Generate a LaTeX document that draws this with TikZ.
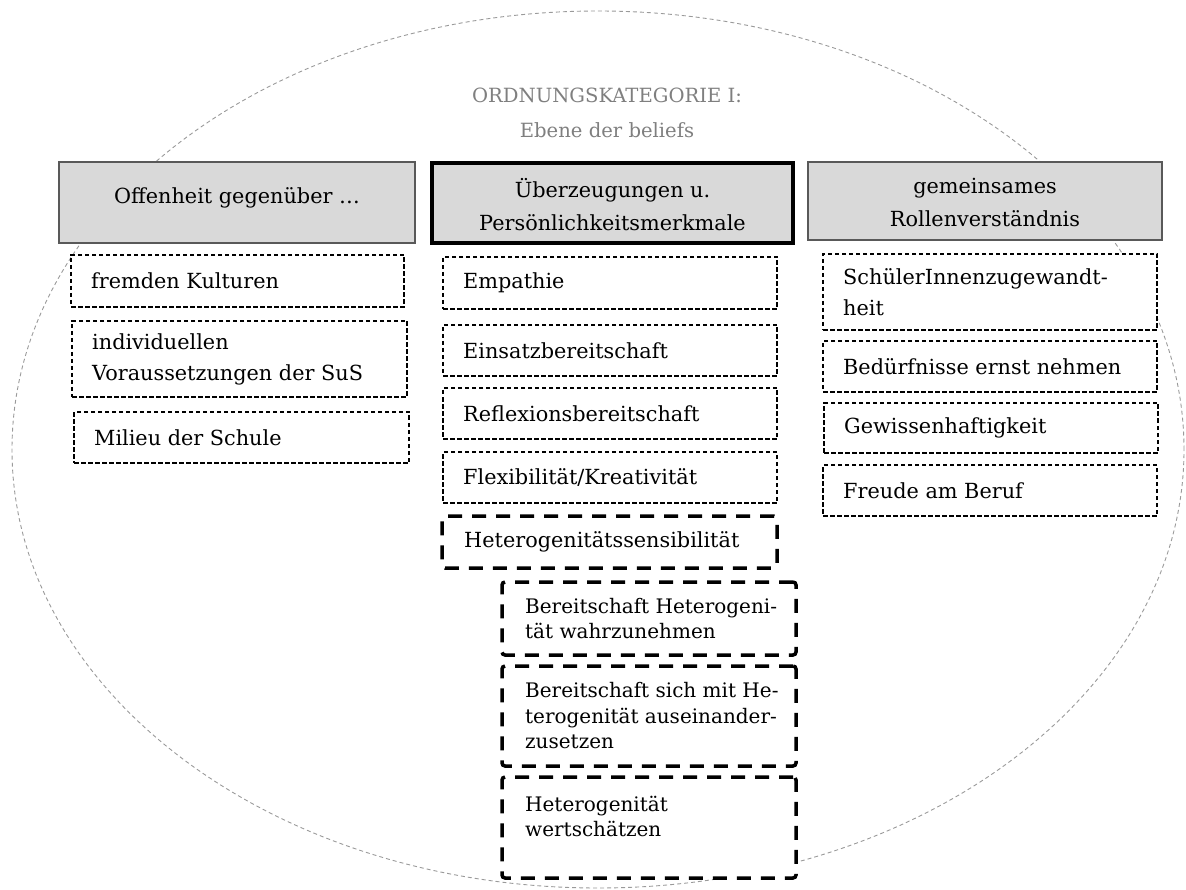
\documentclass[tikz,border=0pt]{standalone}
\usepackage{fontspec}
\setmainfont{DejaVu Serif}
\definecolor{hdrgray}{HTML}{D9D9D9}
\definecolor{ellgray}{HTML}{9A9A9A}
\definecolor{titlegray}{HTML}{7F7F7F}
\newcommand\bodyfont{\fontsize{20.8}{31}\selectfont}
\newcommand\subfont{\fontsize{20}{25.5}\selectfont}
\newcommand\headfont{\fontsize{20.8}{33}\selectfont}
\newcommand\titlefont{\fontsize{19.6}{35}\selectfont}
% a box: style, name, top-left corner, width, height
\newcommand\boxat[5]{\node[#1, minimum width=#4pt, minimum height=#5pt, anchor=north west, inner sep=0pt, outer sep=0pt] (#2) at (#3) {};}
\tikzset{
  ell/.style={draw=ellgray, line width=0.9pt, dash pattern=on 4pt off 3pt},
  hdr/.style={draw=black!65, fill=hdrgray, line width=1.2pt},
  hdrmain/.style={draw=black, fill=hdrgray, line width=3.5pt},
  item/.style={draw=black, fill=white, line width=1.1pt, dash pattern=on 4.5pt off 2.5pt},
  hitem/.style={draw=black, fill=white, line width=3.5pt, dash pattern=on 14pt off 10pt, rounded corners=3pt},
  txt/.style={inner sep=0pt, anchor=west, align=left, font=\bodyfont, xshift=20pt},
  subtxt/.style={inner sep=0pt, anchor=west, align=left, font=\subfont, xshift=23pt},
  headtxt/.style={inner sep=0pt, anchor=center, align=center, font=\headfont},
  titletxt/.style={inner sep=0pt, anchor=center, align=center, font=\titlefont, text=titlegray},
}
\begin{document}
\begin{tikzpicture}[x=1pt, y=-1pt]
\useasboundingbox (0,0) rectangle (1186,890);

% enclosing ellipse
\draw[ell] (598,449.5) ellipse [x radius=586pt, y radius=438.5pt];

\node[titletxt] (title) at (607,113) {ORDNUNGSKATEGORIE I:\\Ebene der beliefs};

% column headers
\boxat{hdr}{h1}{59,162}{356}{81}
\boxat{hdrmain}{h2}{432,163}{361}{80}
\boxat{hdr}{h3}{808,162}{354}{78}
\node[headtxt, yshift=5pt] (h1t) at (h1.center) {Offenheit gegenüber …};
\node[headtxt, yshift=-1.5pt] (h2t) at (h2.center) {Überzeugungen u.\\Persönlichkeitsmerkmale};
\node[headtxt, yshift=-1pt] (h3t) at (h3.center) {gemeinsames\\Rollenverständnis};

% left column
\boxat{item}{l1}{71,255}{333}{52}
\boxat{item}{l2}{72,321}{335}{76}
\boxat{item}{l3}{74,412}{335}{51}
\node[txt] (l1t) at (l1.west) {fremden Kulturen};
\node[txt] (l2t) at (l2.west) {individuellen\\Voraussetzungen der SuS};
\node[txt] (l3t) at (l3.west) {Milieu der Schule};

% middle column
\boxat{item}{m1}{443,257}{334}{52}
\boxat{item}{m2}{443,325}{334}{51}
\boxat{item}{m3}{443,388}{334}{51}
\boxat{item}{m4}{443,452}{334}{51}
\boxat{hitem}{m5}{442,516}{335}{52}
\node[txt] (m1t) at (m1.west) {Empathie};
\node[txt] (m2t) at (m2.west) {Einsatzbereitschaft};
\node[txt] (m3t) at (m3.west) {Reflexionsbereitschaft};
\node[txt] (m4t) at (m4.west) {Flexibilität/Kreativität};
\node[txt, xshift=2pt] (m5t) at (m5.west) {Heterogenitätssensibilität};

% sub-items of Heterogenitätssensibilität
\boxat{hitem}{s1}{502,582}{294}{73}
\boxat{hitem}{s2}{502,666}{294}{100}
\boxat{hitem}{s3}{502,777}{294}{101}
\node[subtxt] (s1t) at (s1.west) {Bereitschaft Heterogeni-\\tät wahrzunehmen};
\node[subtxt] (s2t) at (s2.west) {Bereitschaft sich mit He-\\terogenität auseinander-\\zusetzen};
\node[subtxt, yshift=11pt] (s3t) at (s3.west) {Heterogenität\\wertschätzen};

% right column
\boxat{item}{r1}{823,254}{334}{76}
\boxat{item}{r2}{823,341}{334}{51}
\boxat{item}{r3}{824,403}{334}{50}
\boxat{item}{r4}{823,465}{334}{51}
\node[txt] (r1t) at (r1.west) {SchülerInnenzugewandt-\\heit};
\node[txt] (r2t) at (r2.west) {Bedürfnisse ernst nehmen};
\node[txt] (r3t) at (r3.west) {Gewissenhaftigkeit};
\node[txt] (r4t) at (r4.west) {Freude am Beruf};
\end{tikzpicture}
\end{document}
